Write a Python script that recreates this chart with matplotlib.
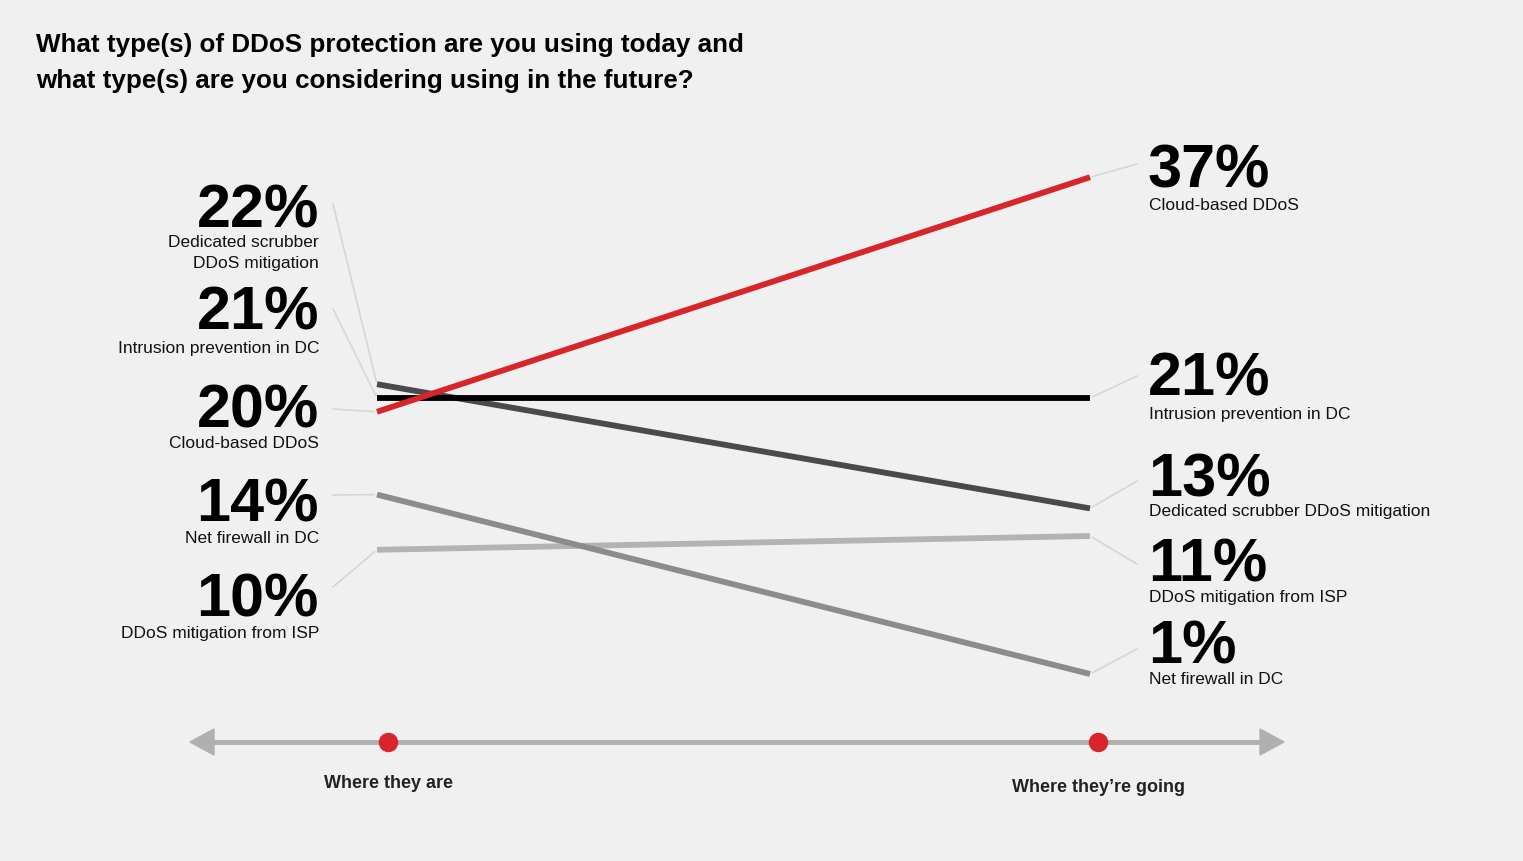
import matplotlib.pyplot as plt
from matplotlib.patches import Polygon

# DATA
categories = ['Dedicated scrubber DDoS mitigation', 'Intrusion prevention in DC',
              'Cloud-based DDoS', 'Net firewall in DC', 'DDoS mitigation from ISP']
today = [22, 21, 20, 14, 10]
future = [13, 21, 37, 1, 11]
left_names = ['Dedicated scrubber\nDDoS mitigation', 'Intrusion prevention in DC',
              'Cloud-based DDoS', 'Net firewall in DC', 'DDoS mitigation from ISP']
axis_labels = ['Where they are', 'Where they\u2019re going']
title_lines = ['What type(s) of DDoS protection are you using today and',
               'what type(s) are you considering using in the future?']

# STYLE / LAYOUT
colors = ['#4a4a4a', '#000000', '#d8242b', '#8c8c8c', '#b3b3b3']
bg = '#f0f0f0'
W, H = 1523, 862
plt.rcParams['font.family'] = ['Liberation Sans', 'DejaVu Sans']

# label layout in pixels (baseline of big number, centre of sub label)
left_num_y = [228, 330, 428, 522, 617]
left_sub_y = [253, 349, 444, 539, 634]
left_lead = [(333, 205), (333, 310), (333, 410), (333, 496), (333, 588)]
right_num_y = [497, 396, 188, 664, 582]
right_sub_y = [512, 415, 206, 680, 598]
right_lead = [(1137, 482), (1137, 377), (1137, 165), (1137, 650), (1137, 565)]


def fx(px):
    return px / W


def fy(py):
    return 1 - py / H


fig = plt.figure(figsize=(W / 100, H / 100), dpi=100, facecolor=bg)
ax = fig.add_axes([0, 0, 1, 1])
ax.set_facecolor(bg)
# x=0 -> px 377, x=1 -> px 1090 ; y scale ~13.8 px per percent
ax.set_xlim(-377 / 713, (W - 377) / 713)
ax.set_ylim(17 - (H - 454.2) / 13.8, 17 + 454.2 / 13.8)
ax.axis('off')

# leader lines
for i in range(len(categories)):
    ax.annotate('', xy=(0, today[i]), xycoords='data',
                xytext=(fx(left_lead[i][0]), fy(left_lead[i][1])),
                textcoords='figure fraction',
                arrowprops=dict(arrowstyle='-', color='#d6d6d6', lw=1.2,
                                shrinkA=0, shrinkB=2))
    ax.annotate('', xy=(1, future[i]), xycoords='data',
                xytext=(fx(right_lead[i][0]), fy(right_lead[i][1])),
                textcoords='figure fraction',
                arrowprops=dict(arrowstyle='-', color='#d6d6d6', lw=1.2,
                                shrinkA=0, shrinkB=2))

# slope lines (draw light ones first)
order = [4, 3, 0, 1, 2]
for i in order:
    ax.plot([0, 1], [today[i], future[i]], color=colors[i], lw=4.2,
            solid_capstyle='butt', zorder=3)

# labels
for i in range(len(categories)):
    fig.text(fx(319), fy(left_num_y[i]), f'{today[i]}%', ha='right', va='baseline',
             fontsize=44, fontweight='bold', color='#000000')
    fig.text(fx(319), fy(left_sub_y[i]), left_names[i], ha='right', va='center',
             fontsize=12.5, color='#111111', linespacing=1.45, multialignment='right')
    fig.text(fx(1148), fy(right_num_y[i]), f'{future[i]}%', ha='left', va='baseline',
             fontsize=44, fontweight='bold', color='#000000')
    fig.text(fx(1149), fy(right_sub_y[i]), categories[i], ha='left', va='center',
             fontsize=12.5, color='#111111')

# title
for line, ty in zip(title_lines, [45, 81]):
    fig.text(fx(36), fy(ty), line, ha='left', va='center', fontsize=18.7,
             fontweight='bold', color='#000000')

# bottom timeline axis
axis_y = 743
fig.add_artist(plt.Line2D([fx(205), fx(1265)], [fy(axis_y), fy(axis_y)],
                          color='#b0b0b0', lw=3.5))
fig.add_artist(Polygon([[fx(190), fy(axis_y)], [fx(214), fy(axis_y - 13)],
                        [fx(214), fy(axis_y + 13)]], closed=True, color='#b0b0b0'))
fig.add_artist(Polygon([[fx(1284), fy(axis_y)], [fx(1260), fy(axis_y - 13)],
                        [fx(1260), fy(axis_y + 13)]], closed=True, color='#b0b0b0'))
for px, lab, ly in zip([388, 1098], axis_labels, [784, 788]):
    fig.add_artist(plt.Line2D([fx(px)], [fy(axis_y)], marker='o', markersize=13,
                              color='#d8242b', lw=0))
    fig.text(fx(px), fy(ly), lab, ha='center', va='center', fontsize=13,
             fontweight='bold', color='#222222')

fig.savefig('out.png', dpi=100, facecolor=bg)
